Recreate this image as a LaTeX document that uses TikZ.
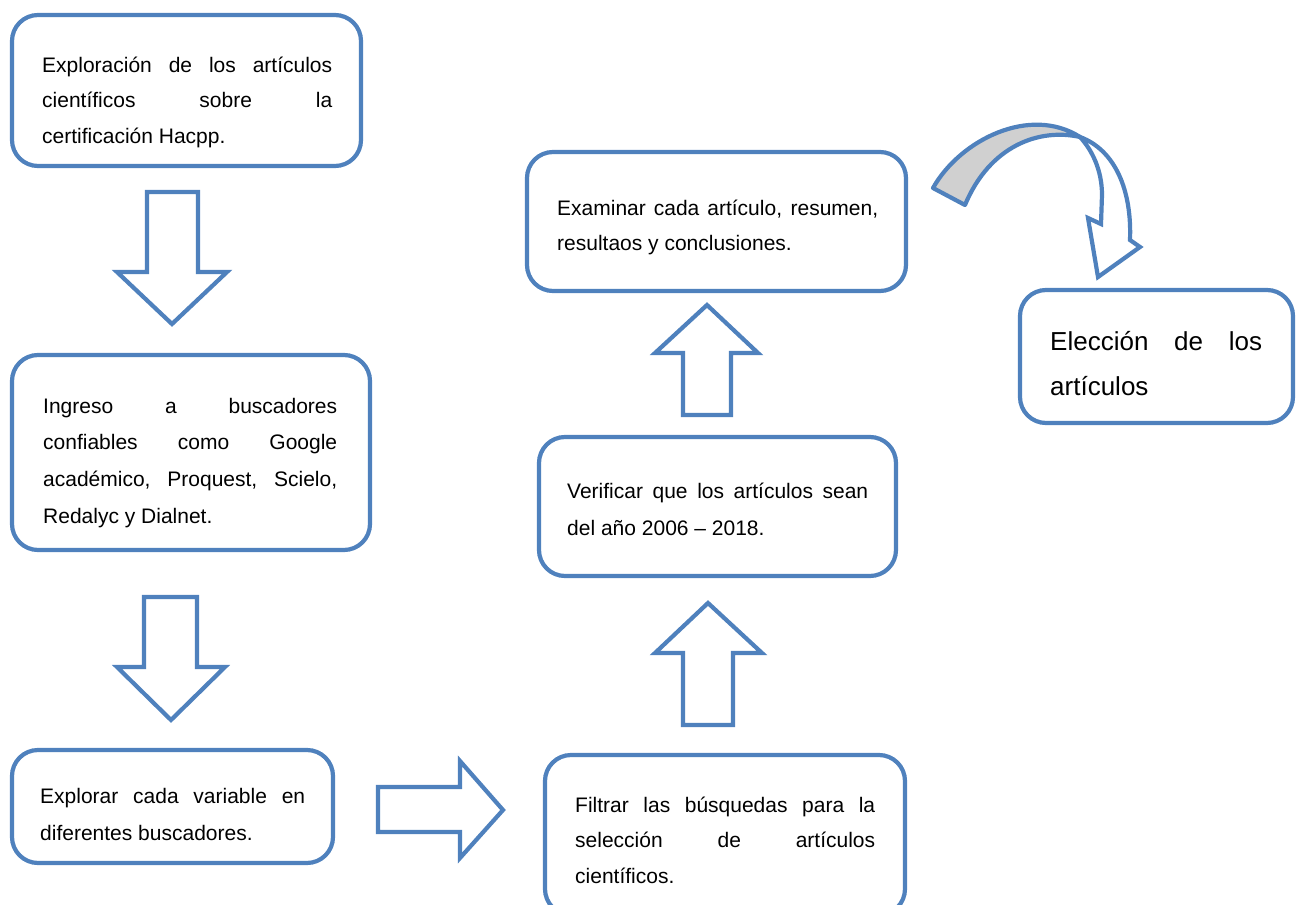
\documentclass[tikz,border=0pt]{standalone}
\usepackage{fontspec}
\setmainfont{Liberation Sans}
\definecolor{bl}{HTML}{4F81BD}
\definecolor{gr}{HTML}{D0D0D0}
\newcommand\jl[1]{\makebox[\linewidth][s]{#1}\\}
\newcommand\btxt[4]{\parbox[t]{#1}{\fontsize{#2}{#3}\selectfont #4}}
\begin{document}
\begin{tikzpicture}[x=1pt,y=-1pt,
  box/.style={draw=bl, line width=4.2pt, rounded corners=26pt, fill=white, inner sep=0pt},
  blockarrow/.style={draw=bl, line width=4.2pt, fill=white, line join=miter},
  txt/.style={inner sep=0pt, anchor=base west}]
\useasboundingbox (0,0) rectangle (1302,905);

% boxes
\node[box, minimum width=349pt, minimum height=151pt] (b1) at (186.5,90.5) {};
\node[box, minimum width=358pt, minimum height=195pt] (b2) at (191,452.5) {};
\node[box, minimum width=321pt, minimum height=113pt] (b3) at (172.5,806.5) {};
\node[box, minimum width=360pt, minimum height=160pt] (b4) at (725,835) {};
\node[box, minimum width=357pt, minimum height=139pt] (b5) at (717.5,506.5) {};
\node[box, minimum width=379pt, minimum height=139pt] (b6) at (716.5,221.5) {};
\node[box, minimum width=273pt, minimum height=133pt] (b7) at (1156.5,356.5) {};

% texts
\node[txt] (t1) at (42,72) {\btxt{290pt}{21}{35.5}{\jl{Exploración de los artículos}\jl{científicos sobre la}certificación Hacpp.}};
\node[txt] (t2) at (43,413) {\btxt{294pt}{21}{36.7}{\jl{Ingreso a buscadores}\jl{confiables como Google}\jl{académico, Proquest, Scielo,}Redalyc y Dialnet.}};
\node[txt] (t3) at (40,803) {\btxt{265pt}{21}{37}{\jl{Explorar cada variable en}diferentes buscadores.}};
\node[txt] (t4) at (575,812) {\btxt{300pt}{21}{35.8}{\jl{Filtrar las búsquedas para la}\jl{selección de artículos}científicos.}};
\node[txt] (t5) at (567,498) {\btxt{301pt}{21}{37}{\jl{Verificar que los artículos sean}del año 2006 – 2018.}};
\node[txt] (t6) at (557,215) {\btxt{321pt}{21}{35}{\jl{Examinar cada artículo, resumen,}resultaos y conclusiones.}};
\node[txt] (t7) at (1050,350) {\btxt{212pt}{26}{45}{\jl{Elección de los}artículos}};

% block arrows
\draw[blockarrow] (147,192) -- (198,192) -- (198,272) -- (227,272) -- (172,324) -- (117,272) -- (147,272) -- cycle;
\draw[blockarrow] (144,597) -- (197,597) -- (197,667) -- (225,667) -- (171,720) -- (117,667) -- (144,667) -- cycle;
\draw[blockarrow] (378,787) -- (460,787) -- (460,761) -- (503,810) -- (460,858) -- (460,832) -- (378,832) -- cycle;
\draw[blockarrow] (683,725) -- (683,653) -- (655,653) -- (708,603) -- (762,653) -- (733,653) -- (733,725) -- cycle;
\draw[blockarrow] (683,415) -- (683,353) -- (655,353) -- (707,305) -- (758,353) -- (731,353) -- (731,415) -- cycle;

% curved arrow
\coordinate (cx) at (1080,137);
\draw[draw=bl, fill=gr, line width=4.2pt, line join=round]
  (933,188) .. controls (960,140) and (1030,105) .. (cx)
  .. controls (1040,128) and (990,145) .. (965,205) -- cycle;
\draw[draw=bl, fill=white, line width=4.2pt, line join=miter]
  (cx) .. controls (1115,150) and (1132,190) .. (1130,240) -- (1140,247) -- (1098,277)
  -- (1088,218) -- (1101,224) -- (1102,195) .. controls (1102,170) and (1092,150) .. (cx) -- cycle;
\end{tikzpicture}
\end{document}
